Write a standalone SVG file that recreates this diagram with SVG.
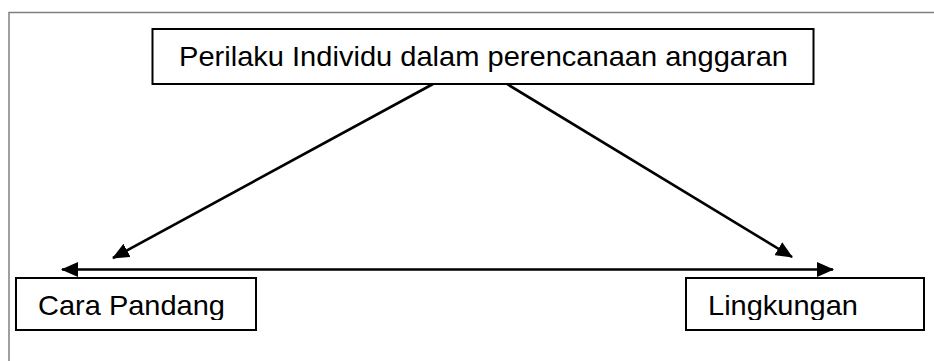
<svg xmlns="http://www.w3.org/2000/svg" width="934" height="361" viewBox="0 0 934 361">
<style>
.box{fill:#fff;stroke:#000;stroke-width:2}
.lbl{font-family:"Liberation Sans",Arial,sans-serif;fill:#000}
.conn{stroke:#000;stroke-width:2.6;fill:none}
.frame{stroke:#808080;stroke-width:1.5;fill:none}
</style>
<defs>
<marker id="ah" markerUnits="userSpaceOnUse" markerWidth="17" markerHeight="15" refX="16" refY="7.5" orient="auto-start-reverse" viewBox="0 0 17 15">
<path d="M0,0 L17,7.5 L0,15 Z" fill="#000"/>
</marker>
<clipPath id="clipB"><rect x="0" y="0" width="934" height="320"/></clipPath>
</defs>
<path class="frame" d="M9,361 V12.5 H934"/>
<g id="connectors">
<line class="conn" x1="433" y1="84" x2="113" y2="258" marker-end="url(#ah)"/>
<line class="conn" x1="507" y1="84" x2="792" y2="257" marker-end="url(#ah)"/>
<line class="conn" x1="62" y1="269.5" x2="833" y2="269.5" marker-start="url(#ah)" marker-end="url(#ah)"/>
</g>
<g id="node-perilaku">
<rect class="box" x="152.5" y="29" width="661" height="55"/>
<text class="lbl" x="179" y="66" font-size="28" textLength="609" lengthAdjust="spacingAndGlyphs">Perilaku Individu dalam perencanaan anggaran</text>
</g>
<g id="node-cara">
<rect class="box" x="16" y="278" width="240" height="52"/>
<text class="lbl" x="38" y="315" font-size="28" textLength="187" lengthAdjust="spacingAndGlyphs" clip-path="url(#clipB)">Cara Pandang</text>
</g>
<g id="node-lingkungan">
<rect class="box" x="686" y="278" width="238" height="52"/>
<text class="lbl" x="708" y="315" font-size="28" textLength="150" lengthAdjust="spacingAndGlyphs" clip-path="url(#clipB)">Lingkungan</text>
</g>
</svg>
